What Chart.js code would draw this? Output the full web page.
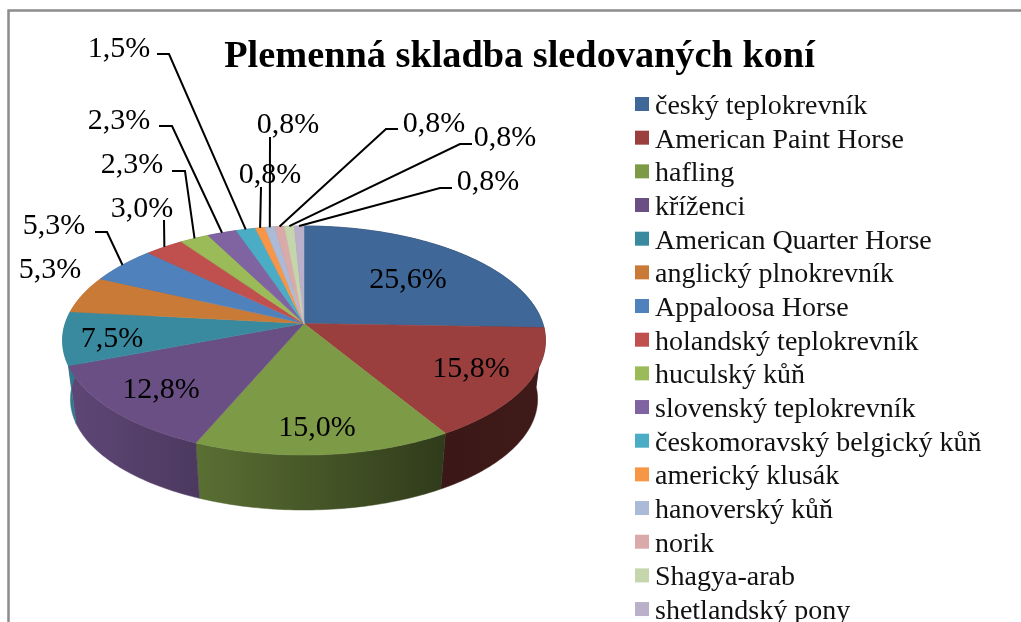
<!DOCTYPE html>
<html>
<head>
<meta charset="utf-8">
<title>Plemenná skladba sledovaných koní</title>
<script src="https://cdn.jsdelivr.net/npm/chart.js@4"></script>
<style>
  html, body { margin: 0; background: #fff; }
  canvas { display: block; }
</style>
</head>
<body>
<canvas id="chart" width="1021" height="622"></canvas>
<script>
var chartTitle = 'Plemenná skladba sledovaných koní';
var breeds = ['český teplokrevník', 'American Paint Horse', 'hafling', 'kříženci', 'American Quarter Horse',
  'anglický plnokrevník', 'Appaloosa Horse', 'holandský teplokrevník', 'huculský kůň', 'slovenský teplokrevník',
  'českomoravský belgický kůň', 'americký klusák', 'hanoverský kůň', 'norik', 'Shagya-arab', 'shetlandský pony'];
var shares = [25.56, 15.79, 15.04, 12.78, 7.52, 5.26, 5.26, 3.01, 2.26, 2.26, 1.5, 0.75, 0.75, 0.75, 0.75, 0.75];
var sliceColors = ['#3f6797', '#9a3f3d', '#7d9a47', '#6a4f84', '#39899f', '#c97a36', '#4f81bd', '#c0504d',
  '#9bbb59', '#8064a2', '#4bacc6', '#f79646', '#aabad7', '#d9aaa9', '#c6d6ac', '#bab0c9'];

// where the percentage labels sit (centre of the text)
var labelCentres = [[408, 280], [471, 369], [317, 428], [161, 390], [112, 339], [50, 270], [54, 226], [142, 209],
  [132, 165], [119, 121], [119, 49], [270, 175], [288, 125], [434, 124], [505, 138], [488, 182]];
// leader lines, null = label has none
var leaderPaths = [null, null, null, null, null, null,
  [[95, 232], [107, 232]], [[164, 220]], [[172, 171], [185, 171]], [[159, 126], [172, 126]], [[157, 54], [169, 54]],
  [[261, 187]], [[270, 137]], [[398, 129], [386, 129]], [[472, 144], [460, 144]], [[452, 188], [440, 188]]];

// perspective of the pie: top face and bottom face of the disc
var topFace = { x: 304, y: 323.5, rx: 238.8, ry: 112 };
var bottomFace = { x: 304, y: 382.7, rx: 231, ry: 108.4 };
var tilt = 0.1485;

function project(face, angle) {
  var w = 1 - tilt * Math.sin(angle);
  return { x: face.x + face.rx * Math.cos(angle) / w, y: face.y + face.ry * Math.sin(angle) / w };
}

function shade(hex, f) {
  var n = parseInt(hex.slice(1), 16);
  return 'rgb(' + Math.round((n >> 16) * f) + ',' + Math.round(((n >> 8) & 255) * f) + ',' + Math.round((n & 255) * f) + ')';
}

function traceEdge(ctx, face, from, to, first) {
  var steps = Math.max(2, Math.ceil(Math.abs(to - from) * 60));
  for (var i = 0; i <= steps; i++) {
    var p = project(face, from + (to - from) * i / steps);
    if (i == 0 && first) ctx.moveTo(p.x, p.y); else ctx.lineTo(p.x, p.y);
  }
}

var pie3d = {
  id: 'pie3d',
  beforeDraw: function(chart) {
    var ctx = chart.ctx;
    ctx.save();
    ctx.strokeStyle = '#8c8c8c';
    ctx.lineWidth = 2.5;
    ctx.beginPath();
    ctx.moveTo(8.5, 622);
    ctx.lineTo(8.5, 10.5);
    ctx.lineTo(1021, 10.5);
    ctx.stroke();
    ctx.restore();
  },
  // library works out the angles, we only project them
  beforeDatasetDraw: function(chart, args) {
    var ctx = chart.ctx;
    var arcs = args.meta.data;
    ctx.save();
    arcs.forEach(function(arc, i) {
      var g = ctx.createLinearGradient(63, 0, 546, 0);
      g.addColorStop(0, shade(sliceColors[i], 0.9));
      g.addColorStop(0.28, shade(sliceColors[i], 0.72));
      g.addColorStop(0.79, shade(sliceColors[i], 0.38));
      g.addColorStop(1, shade(sliceColors[i], 0.41));
      ctx.beginPath();
      traceEdge(ctx, topFace, arc.startAngle, arc.endAngle, true);
      traceEdge(ctx, bottomFace, arc.endAngle, arc.startAngle, false);
      ctx.closePath();
      ctx.fillStyle = g;
      ctx.strokeStyle = g;
      ctx.lineWidth = 0.5;
      ctx.fill();
      ctx.stroke();
    });
    arcs.forEach(function(arc, i) {
      ctx.beginPath();
      ctx.moveTo(topFace.x, topFace.y);
      traceEdge(ctx, topFace, arc.startAngle, arc.endAngle, false);
      ctx.closePath();
      ctx.fillStyle = sliceColors[i];
      ctx.strokeStyle = sliceColors[i];
      ctx.lineWidth = 0.5;
      ctx.fill();
      ctx.stroke();
    });
    ctx.restore();
    return false;
  },
  afterDatasetsDraw: function(chart) {
    var ctx = chart.ctx;
    var arcs = chart.getDatasetMeta(0).data;
    ctx.save();

    // leaders
    ctx.strokeStyle = '#000';
    ctx.lineWidth = 2;
    arcs.forEach(function(arc, i) {
      if (!leaderPaths[i]) return;
      var end = project(topFace, (arc.startAngle + arc.endAngle) / 2);
      ctx.beginPath();
      leaderPaths[i].forEach(function(p, k) {
        if (k == 0) ctx.moveTo(p[0], p[1]); else ctx.lineTo(p[0], p[1]);
      });
      ctx.lineTo(end.x, end.y);
      ctx.stroke();
    });

    // percentages
    ctx.fillStyle = '#000';
    ctx.font = '30px "Liberation Serif"';
    ctx.textAlign = 'center';
    ctx.textBaseline = 'middle';
    shares.forEach(function(v, i) {
      ctx.fillText(v.toFixed(1).replace('.', ',') + '%', labelCentres[i][0], labelCentres[i][1]);
    });

    // title
    ctx.font = 'bold 38.3px "Liberation Serif"';
    ctx.textBaseline = 'alphabetic';
    ctx.fillText(chartTitle, 519.5, 67);

    // legend
    ctx.font = '28px "Liberation Serif"';
    ctx.textAlign = 'left';
    breeds.forEach(function(name, i) {
      var y = 104 + i * 33.67;
      ctx.fillStyle = sliceColors[i];
      ctx.fillRect(635, y - 7, 14, 14);
      ctx.fillStyle = '#111';
      ctx.fillText(name, 655, y + 10);
    });
    ctx.restore();
  }
};

var myChart = new Chart(document.getElementById('chart').getContext('2d'), {
  type: 'pie',
  data: {
    labels: breeds,
    datasets: [{ data: shares, backgroundColor: sliceColors, borderWidth: 0 }]
  },
  options: {
    responsive: false,
    animation: false,
    plugins: {
      legend: { display: false },
      title: { display: false },
      tooltip: { enabled: false }
    }
  },
  plugins: [pie3d]
});
</script>
</body>
</html>
